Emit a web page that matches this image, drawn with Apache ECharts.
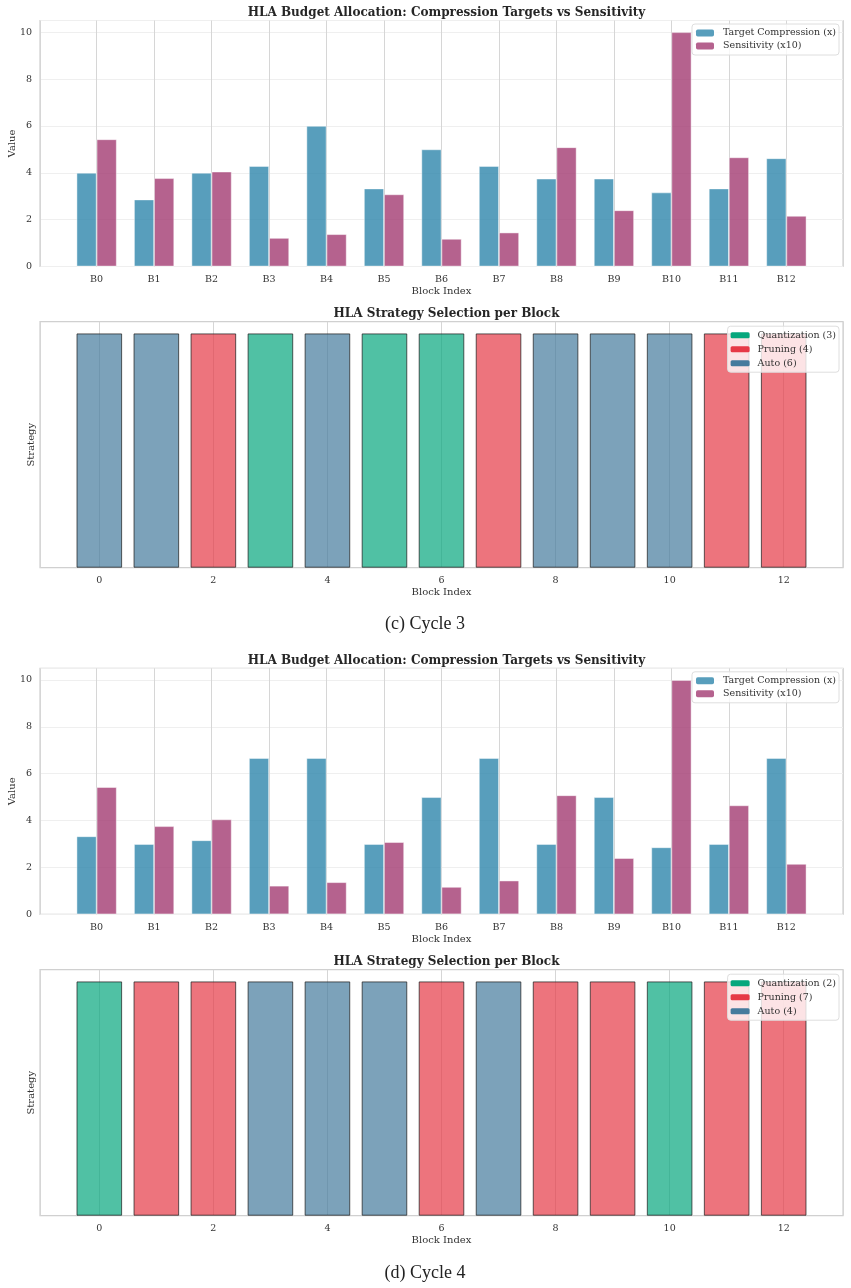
<!DOCTYPE html>
<html>
<head>
<meta charset="utf-8">
<script src="https://cdn.jsdelivr.net/npm/echarts@6/dist/echarts.min.js"></script>
<style>
  html, body { margin: 0; padding: 0; background: #fff; }
  #main { width: 851px; height: 1288px; }
</style>
</head>
<body>
<div id="main"></div>
<script>
// data
var blocks = ['B0', 'B1', 'B2', 'B3', 'B4', 'B5', 'B6', 'B7', 'B8', 'B9', 'B10', 'B11', 'B12'];
var targetC3 = [4.0, 2.86, 4.0, 4.29, 6.0, 3.33, 5.0, 4.29, 3.75, 3.75, 3.16, 3.33, 4.62];
var sensC3 = [5.43, 3.77, 4.05, 1.22, 1.38, 3.08, 1.18, 1.45, 5.09, 2.40, 10.0, 4.66, 2.16];
var targetC4 = [3.33, 3.0, 3.16, 6.67, 6.67, 3.0, 5.0, 6.67, 3.0, 5.0, 2.86, 3.0, 6.67];
var sensC4 = [5.43, 3.76, 4.05, 1.22, 1.37, 3.08, 1.17, 1.44, 5.08, 2.40, 10.0, 4.65, 2.15];
var strategyC3 = ['Auto', 'Auto', 'Pruning', 'Quantization', 'Auto', 'Quantization', 'Quantization',
  'Pruning', 'Auto', 'Auto', 'Auto', 'Pruning', 'Pruning'];
var strategyC4 = ['Quantization', 'Pruning', 'Pruning', 'Auto', 'Auto', 'Auto', 'Pruning',
  'Auto', 'Pruning', 'Pruning', 'Quantization', 'Pruning', 'Pruning'];
var strategyNames = ['Quantization', 'Pruning', 'Auto'];
var strategyColors = { Quantization: '#06A77D', Pruning: '#E63946', Auto: '#457B9D' };
var captions = ['(c) Cycle 3', '(d) Cycle 4'];

var FONT = 'DejaVu Serif';
var TXT = '#333';
var PLOT_L = 40, PLOT_W = 803, PLOT_H = 246;

var chart = echarts.init(document.getElementById('main'), null, { renderer: 'canvas' });

var option = {
  backgroundColor: '#fff',
  animation: false,
  textStyle: { fontFamily: FONT },
  title: [], legend: [], grid: [], xAxis: [], yAxis: [], series: [], graphic: []
};

function intLabel(prefix) {
  return function (v) {
    return Math.abs(v - Math.round(v)) < 1e-6 ? prefix + Math.round(v) : '';
  };
}

function addTitle(text, y) {
  option.title.push({
    text: text, left: PLOT_L + PLOT_W / 2, top: y, textAlign: 'center',
    textStyle: { fontFamily: FONT, fontSize: 12, fontWeight: 'bold', color: '#262626' }
  });
}

function addGrid(top) {
  option.grid.push({
    left: PLOT_L, top: top, width: PLOT_W, height: PLOT_H,
    outerBoundsMode: 'none', containLabel: false,
    show: true, borderColor: '#d0d0d0', borderWidth: 1.2, backgroundColor: '#fff'
  });
}

function budgetPanel(g, top, target, sens) {
  addGrid(top);
  option.xAxis.push({
    type: 'value', gridIndex: g, min: -0.985, max: 12.985, splitNumber: 14,
    name: 'Block Index', nameLocation: 'middle', nameGap: 20, nameMoveOverlap: false,
    nameTextStyle: { fontFamily: FONT, fontSize: 10, color: TXT },
    axisLine: { show: false }, axisTick: { show: false },
    axisLabel: { formatter: intLabel('B'), fontFamily: FONT, fontSize: 9.5, color: TXT, margin: 8 },
    splitLine: { show: true, lineStyle: { color: '#d6d6d6', width: 1 } }
  });
  option.yAxis.push({
    type: 'value', gridIndex: g, min: 0, max: 10.5, interval: 2,
    name: 'Value', nameLocation: 'middle', nameGap: 23, nameMoveOverlap: false,
    nameTextStyle: { fontFamily: FONT, fontSize: 10, color: TXT },
    axisLine: { show: false }, axisTick: { show: false },
    axisLabel: { formatter: intLabel(''), fontFamily: FONT, fontSize: 9.5, color: TXT, margin: 8 },
    splitLine: { show: true, lineStyle: { color: '#efefef', width: 1 } }
  });
  var names = ['Target Compression (x)', 'Sensitivity (x10)'];
  var cols = ['#2E86AB', '#A23B72'];
  [target, sens].forEach(function (arr, k) {
    option.series.push({
      type: 'bar', name: names[k], xAxisIndex: g, yAxisIndex: g,
      barWidth: 20.1, barGap: '0%',
      itemStyle: { color: cols[k], opacity: 0.8, borderColor: 'rgba(255,255,255,0.7)', borderWidth: 0.8 },
      data: arr.map(function (v, i) { return [i, v]; })
    });
  });
  option.legend.push({
    data: names, orient: 'vertical', right: 12, top: top + 3.5,
    itemWidth: 18, itemHeight: 7, itemGap: 3,
    padding: [4, 3, 4, 4],
    backgroundColor: 'rgba(255,255,255,0.8)', borderColor: '#dedede', borderWidth: 1, borderRadius: 3,
    itemStyle: { borderWidth: 0 },
    textStyle: { fontFamily: FONT, fontSize: 9.5, color: TXT, padding: [0, 0, 0, 4] }
  });
}

function strategyPanel(g, top, strategy) {
  addGrid(top);
  option.xAxis.push({
    type: 'value', gridIndex: g, min: -1.04, max: 13.04, splitNumber: 7,
    name: 'Block Index', nameLocation: 'middle', nameGap: 20, nameMoveOverlap: false,
    nameTextStyle: { fontFamily: FONT, fontSize: 10, color: TXT },
    axisLine: { show: false }, axisTick: { show: false },
    axisLabel: { formatter: intLabel(''), fontFamily: FONT, fontSize: 9.5, color: TXT, margin: 8 },
    splitLine: { show: true, lineStyle: { color: '#d6d6d6', width: 1 } }
  });
  option.yAxis.push({
    type: 'value', gridIndex: g, min: 0, max: 1.05,
    name: 'Strategy', nameLocation: 'middle', nameGap: 4, nameMoveOverlap: false,
    nameTextStyle: { fontFamily: FONT, fontSize: 10, color: TXT },
    axisLine: { show: false }, axisTick: { show: false },
    axisLabel: { show: false }, splitLine: { show: false }
  });
  var legendNames = [];
  strategyNames.forEach(function (s) {
    var count = strategy.filter(function (x) { return x === s; }).length;
    var nm = s + ' (' + count + ')';
    legendNames.push(nm);
    option.series.push({
      type: 'bar', name: nm, xAxisIndex: g, yAxisIndex: g,
      barWidth: 45.6, barGap: '-100%',
      itemStyle: { color: strategyColors[s], opacity: 0.7, borderColor: '#1a1a1a', borderWidth: 1 },
      data: strategy.map(function (x, i) { return x === s ? [i, 1] : null; })
        .filter(function (d) { return d !== null; })
    });
  });
  option.legend.push({
    data: legendNames, orient: 'vertical', right: 12, top: top + 4.5,
    itemWidth: 19, itemHeight: 6, itemGap: 4,
    padding: [4, 3, 4, 3],
    backgroundColor: 'rgba(255,255,255,0.8)', borderColor: '#dedede', borderWidth: 1, borderRadius: 3,
    itemStyle: { opacity: 1, borderWidth: 0 },
    textStyle: { fontFamily: FONT, fontSize: 9.5, color: TXT, padding: [0, 0, 0, 3] }
  });
}

// cycle 3
addTitle('HLA Budget Allocation: Compression Targets vs Sensitivity', 1.5);
budgetPanel(0, 20.5, targetC3, sensC3);
addTitle('HLA Strategy Selection per Block', 302.5);
strategyPanel(1, 321.7, strategyC3);
// cycle 4
addTitle('HLA Budget Allocation: Compression Targets vs Sensitivity', 649.5);
budgetPanel(2, 668.3, targetC4, sensC4);
addTitle('HLA Strategy Selection per Block', 950.5);
strategyPanel(3, 969.7, strategyC4);

[624, 1273].forEach(function (y, k) {
  option.graphic.push({
    type: 'text', x: 425, y: y,
    style: { text: captions[k], fontFamily: 'Liberation Serif', fontSize: 18, fill: '#222',
      textAlign: 'center', textVerticalAlign: 'middle' }
  });
});

chart.setOption(option);
</script>
</body>
</html>
